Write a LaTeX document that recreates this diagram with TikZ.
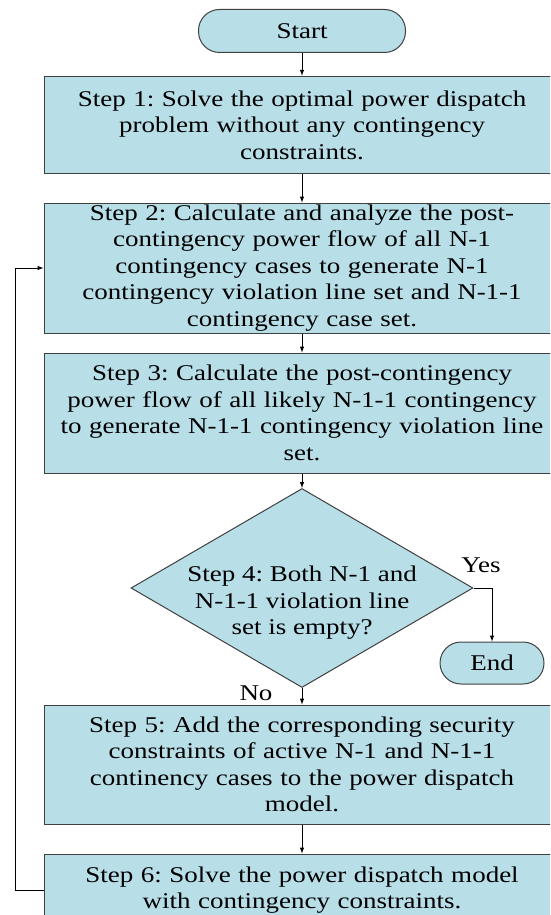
\documentclass[tikz,border=0pt]{standalone}
\usepackage{fontspec}
\setmainfont[FakeStretch=1.2]{Liberation Serif}
\usepackage{tikz}
\usetikzlibrary{arrows}
\usetikzlibrary{shapes.geometric}
\frenchspacing
\newcommand{\flowfont}{\fontsize{22.5}{26.5}\selectfont}
\definecolor{mfill}{rgb}{0.72, 0.87, 0.91}
\definecolor{mgray}{rgb}{0.25, 0.25, 0.25}
\tikzset{stepbox/.style = {draw=mgray, fill=mfill, line width=1pt, text width=512pt, align=center, inner xsep=2pt, inner ysep=0, font=\flowfont}}
\tikzset{terminal/.style = {draw=mgray, fill=mfill, line width=1pt, rounded corners=21pt, inner sep=0, font=\flowfont}}
\tikzset{decision/.style = {draw=mgray, fill=mfill, line width=1pt, diamond, aspect=1.72, inner sep=0}}
\tikzset{flow/.style = {-latex, line width=1pt}}

\begin{document}
\begin{tikzpicture}[x=1pt, y=-1pt]
      \useasboundingbox (0, 0) rectangle (550, 915);
      \clip (0, 0) rectangle (550, 915);

      \node [terminal, minimum width=207pt, minimum height=43pt] (start) at (302, 31) {Start};
      \node [stepbox, minimum height=97.5pt] (step1) at (302, 125) {Step 1: Solve the optimal power dispatch\\ problem without any contingency\\ constraints.};
      \node [stepbox, minimum height=130pt] (step2) at (302, 268) {Step 2: Calculate and analyze the post-\\ contingency power flow of all N-1\\ contingency cases to generate N-1\\ contingency violation line set and N-1-1\\ contingency case set.};
      \node [stepbox, minimum height=120pt] (step3) at (302, 413) {Step 3: Calculate the post-contingency\\ power flow of all likely N-1-1 contingency\\ to generate N-1-1 contingency violation line\\ set.};
      \node [decision, minimum width=342pt, minimum height=199pt,
             label={[yshift=-15pt, align=center, font=\flowfont]center:Step 4: Both N-1 and\\ N-1-1 violation line\\ set is empty?}] (step4) at (302, 588) {};
      \node [terminal, minimum width=104pt, minimum height=42pt] (end) at (492, 663) {End};
      \node [stepbox, minimum height=119pt] (step5) at (302, 764.5) {Step 5: Add the corresponding security\\ constraints of active N-1 and N-1-1\\ continency cases to the power dispatch\\ model.};
      \node [stepbox, minimum height=72pt] (step6) at (302, 890) {Step 6: Solve the power dispatch model\\ with contingency constraints.};

      \node [font=\flowfont] (yes) at (481, 565) {Yes};
      \node [font=\flowfont] (no) at (256, 693) {No};

      \draw [flow] (start) -- (step1);
      \draw [flow] (step1) -- (step2);
      \draw [flow] (step2) -- (step3);
      \draw [flow] (step3) -- (step4);
      \draw [flow] (step4.east) -| (end.north);
      \draw [flow] (step4) -- (step5);
      \draw [flow] (step5) -- (step6);
      \draw [flow] (step6.west) -- ++(-28, 0) |- (step2.west);
    \end{tikzpicture}
\end{document}
